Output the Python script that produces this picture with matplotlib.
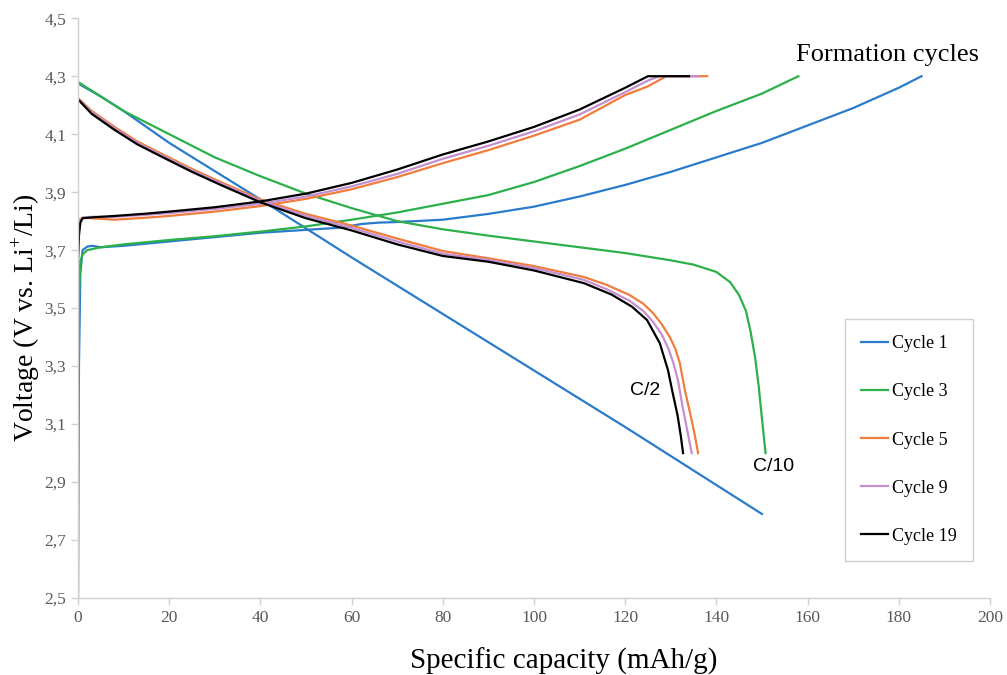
import matplotlib.pyplot as plt

plt.rcParams['font.family'] = ['Liberation Serif', 'DejaVu Serif']
plt.rcParams['mathtext.fontset'] = 'custom'
plt.rcParams['mathtext.rm'] = 'Liberation Serif'

# cycle 1 (formation, C/10)
c1_chg_x = [0, 0.2, 0.5, 1, 2, 3, 5, 10, 20, 30, 40, 50, 58, 62, 66, 70, 80, 90, 100,
            110, 120, 130, 140, 150, 160, 170, 180, 185]
c1_chg_y = [2.50, 3.30, 3.62, 3.70, 3.712, 3.715, 3.71, 3.715, 3.73, 3.745, 3.76, 3.77,
            3.778, 3.79, 3.795, 3.797, 3.805, 3.825, 3.85, 3.885, 3.925, 3.97, 4.02,
            4.07, 4.13, 4.19, 4.26, 4.30]
c1_dis_x = [0, 5, 10, 20, 40, 60, 80, 100, 120, 140, 150]
c1_dis_y = [4.275, 4.23, 4.18, 4.07, 3.875, 3.675, 3.48, 3.285, 3.09, 2.89, 2.79]

# cycle 3 (formation, C/10)
c3_chg_x = [0, 0.2, 0.5, 1, 2, 5, 10, 20, 30, 40, 50, 60, 70, 80, 90, 100, 110, 120,
            130, 140, 150, 158]
c3_chg_y = [3.31, 3.55, 3.66, 3.685, 3.70, 3.71, 3.72, 3.735, 3.748, 3.764, 3.782, 3.805,
            3.83, 3.86, 3.89, 3.935, 3.99, 4.05, 4.115, 4.18, 4.24, 4.30]
c3_dis_x = [0, 5, 10, 20, 30, 40, 50, 60, 70, 80, 90, 100, 110, 120, 130, 135, 140, 143,
            145, 146.5, 147.5, 148.5, 149.3, 150, 150.8]
c3_dis_y = [4.28, 4.23, 4.18, 4.10, 4.02, 3.955, 3.895, 3.845, 3.80, 3.772, 3.75, 3.73,
            3.71, 3.69, 3.665, 3.65, 3.625, 3.59, 3.545, 3.49, 3.42, 3.33, 3.23, 3.12, 3.0]

# cycles 5, 9, 19 (C/2)
c5_chg_x = [0, 0.3, 1, 3, 8, 15, 20, 30, 40, 50, 60, 70, 80, 90, 100, 110, 120, 125, 129,
            133, 138]
c5_chg_y = [3.79, 3.805, 3.812, 3.81, 3.805, 3.812, 3.818, 3.833, 3.852, 3.877, 3.91,
            3.952, 4.0, 4.045, 4.095, 4.15, 4.235, 4.265, 4.30, 4.30, 4.30]
c5_dis_x = [0, 3, 8, 13, 18, 25, 32, 40, 50, 60, 70, 80, 90, 100, 105, 111, 116, 121, 124,
            126.1, 128, 129.8, 131, 132, 133.1, 134.5, 135.3, 136]
c5_dis_y = [4.225, 4.18, 4.125, 4.075, 4.035, 3.98, 3.93, 3.875, 3.825, 3.785, 3.74, 3.697,
            3.672, 3.645, 3.628, 3.607, 3.58, 3.545, 3.515, 3.483, 3.445, 3.40, 3.36, 3.31,
            3.217, 3.12, 3.06, 3.0]

c9_chg_x = [0, 0.3, 1, 3, 8, 15, 20, 30, 40, 50, 60, 70, 80, 90, 100, 110, 120, 125, 127.5,
            133, 136]
c9_chg_y = [3.79, 3.80, 3.812, 3.815, 3.815, 3.822, 3.828, 3.842, 3.86, 3.885, 3.92, 3.963,
            4.015, 4.06, 4.11, 4.168, 4.245, 4.285, 4.30, 4.30, 4.30]
c9_dis_x = [0, 3, 8, 13, 18, 25, 32, 40, 50, 60, 70, 80, 90, 100, 105, 111, 116, 121, 124,
            126, 128, 129.5, 130.6, 131.6, 132.6, 133.6, 134.1, 134.6]
c9_dis_y = [4.222, 4.175, 4.12, 4.07, 4.03, 3.975, 3.925, 3.87, 3.818, 3.777, 3.73, 3.688,
            3.666, 3.638, 3.62, 3.597, 3.565, 3.525, 3.49, 3.455, 3.41, 3.36, 3.31, 3.25,
            3.16, 3.08, 3.04, 3.0]

c19_chg_x = [0, 0.2, 0.5, 1, 3, 8, 15, 20, 30, 40, 50, 60, 70, 80, 90, 100, 110, 120, 125, 134]
c19_chg_y = [3.66, 3.75, 3.795, 3.81, 3.813, 3.818, 3.826, 3.833, 3.848, 3.868, 3.895,
             3.932, 3.978, 4.03, 4.075, 4.125, 4.185, 4.26, 4.30, 4.30]
c19_dis_x = [0, 3, 8, 13, 18, 25, 32, 40, 50, 60, 70, 80, 90, 100, 105, 111, 117, 121.5,
             124.8, 127.6, 129.4, 130.3, 131.5, 132.2, 132.7]
c19_dis_y = [4.22, 4.17, 4.115, 4.065, 4.025, 3.97, 3.92, 3.865, 3.81, 3.768, 3.72, 3.68,
             3.66, 3.63, 3.61, 3.586, 3.547, 3.505, 3.459, 3.379, 3.286, 3.217, 3.13, 3.06,
             3.0]

labels = ['Cycle 1', 'Cycle 3', 'Cycle 5', 'Cycle 9', 'Cycle 19']
colors = ['#2a7bcb', '#2bb04a', '#f07d3c', '#c48fd0', '#000000']
curves = [
    (c1_chg_x, c1_chg_y, c1_dis_x, c1_dis_y),
    (c3_chg_x, c3_chg_y, c3_dis_x, c3_dis_y),
    (c5_chg_x, c5_chg_y, c5_dis_x, c5_dis_y),
    (c9_chg_x, c9_chg_y, c9_dis_x, c9_dis_y),
    (c19_chg_x, c19_chg_y, c19_dis_x, c19_dis_y),
]

fig = plt.figure(figsize=(10.07, 6.75), dpi=100)
ax = fig.add_axes([0.0775, 0.114, 0.9055, 0.859])

for (cx, cy, dx, dy), lab, col in zip(curves, labels, colors):
    ax.plot(cx, cy, color=col, lw=1.6, label=lab)
    ax.plot(dx, dy, color=col, lw=1.6)

ax.set_xlim(0, 200)
ax.set_ylim(2.5, 4.5)
ax.set_xticks(range(0, 201, 20))
yt = [2.5, 2.7, 2.9, 3.1, 3.3, 3.5, 3.7, 3.9, 4.1, 4.3, 4.5]
ax.set_yticks(yt)
ax.set_yticklabels([f'{v:.1f}'.replace('.', ',') for v in yt])

for s in ['top', 'right']:
    ax.spines[s].set_visible(False)
for s in ['left', 'bottom']:
    ax.spines[s].set_color('#d0d0d0')
    ax.spines[s].set_linewidth(1)
ax.tick_params(colors='#d0d0d0', labelcolor='#595959', labelsize=12.5, length=5, width=1)

ax.set_xlabel('Specific capacity (mAh/g)', fontsize=21)
ax.xaxis.set_label_coords(0.533, -0.085)
ax.set_ylabel('Voltage (V vs. Li$^{+}$/Li)', fontsize=20)
ax.yaxis.set_label_coords(-0.040, 0.483)

ax.text(157.5, 4.372, 'Formation cycles', fontsize=19, ha='left', va='center')
ax.text(124.3, 3.217, 'C/2', fontsize=14, family='Liberation Sans', ha='center', va='center')
ax.text(152.6, 2.955, 'C/10', fontsize=14, family='Liberation Sans', ha='center', va='center')

leg = ax.legend(loc='upper left', bbox_to_anchor=(0.841, 0.481), borderaxespad=0,
                fontsize=13, handlelength=1.5, handletextpad=0.2, labelspacing=1.72,
                borderpad=0.9, fancybox=False, framealpha=1)
leg.get_frame().set_edgecolor('#cfcfcf')
leg.get_frame().set_linewidth(1)

fig.savefig('out.png', dpi=100)
